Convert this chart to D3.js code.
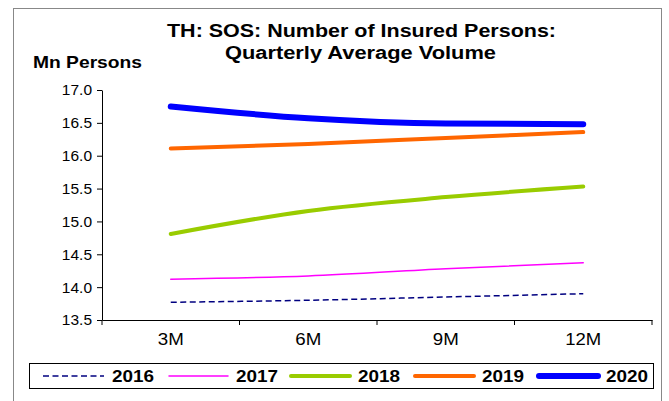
<!DOCTYPE html>
<html>
<head>
<meta charset="utf-8">
<script src="https://cdn.jsdelivr.net/npm/d3@7"></script>
<style>
  body { margin: 0; background: #fff; }
  svg { font-family: "Liberation Sans", Arial, sans-serif; }
</style>
</head>
<body>
<div id="chart"></div>
<script>
// categorie e valori
const periods = ['3M', '6M', '9M', '12M'];
const yTicks = [13.5, 14.0, 14.5, 15.0, 15.5, 16.0, 16.5, 17.0];
const v2016 = [13.77, 13.80, 13.85, 13.90];
const v2017 = [14.12, 14.17, 14.28, 14.37];
const v2018 = [14.81, 15.16, 15.37, 15.53];
const v2019 = [16.11, 16.18, 16.27, 16.36];
const v2020 = [16.75, 16.57, 16.49, 16.48];

const series = [
  { name: '2016', values: v2016, color: '#000080', width: 1.5, dash: '6,3.5' },
  { name: '2017', values: v2017, color: '#ff00ff', width: 1.5, dash: null },
  { name: '2018', values: v2018, color: '#99cc00', width: 4, dash: null },
  { name: '2019', values: v2019, color: '#ff6600', width: 4, dash: null },
  { name: '2020', values: v2020, color: '#0000ff', width: 6, dash: null }
];

const W = 669, H = 401;
const plot = { left: 102, right: 652, top: 90, bottom: 320 };

const svg = d3.select('#chart').append('svg')
  .attr('width', W).attr('height', H);

// cornice esterna
svg.append('rect')
  .attr('x', 13.5).attr('y', 8.5)
  .attr('width', 648).attr('height', 400)
  .attr('fill', '#fff').attr('stroke', '#888').attr('stroke-width', 1);

// testo un po' allargato come nell'originale
function wideText(sel, len) {
  sel.attr('textLength', len).attr('lengthAdjust', 'spacingAndGlyphs');
}

// titolo
svg.append('text').attr('x', 167).attr('y', 37)
  .attr('font-weight', 'bold').attr('font-size', 18)
  .text('TH: SOS: Number of Insured Persons:')
  .call(wideText, 389);
svg.append('text').attr('x', 225).attr('y', 59)
  .attr('font-weight', 'bold').attr('font-size', 18)
  .text('Quarterly Average Volume')
  .call(wideText, 271);
svg.append('text').attr('x', 33).attr('y', 68)
  .attr('font-weight', 'bold').attr('font-size', 17)
  .text('Mn Persons')
  .call(wideText, 109);

// scale
const x = d3.scaleBand().domain(periods).range([plot.left, plot.right]);
const y = d3.scaleLinear().domain([13.5, 17.0]).range([plot.bottom, plot.top]);

// asse y
const yAxis = svg.append('g')
  .attr('transform', `translate(${plot.left},0)`)
  .call(d3.axisLeft(y).tickValues(yTicks).tickFormat(d3.format('.1f')).tickSize(5).tickSizeOuter(0));
yAxis.selectAll('text').attr('font-size', 15.5).attr('fill', '#000').attr('dx', '-2');

// asse x, tacche sui confini delle categorie
const xAxis = svg.append('g')
  .attr('transform', `translate(0,${plot.bottom})`)
  .call(d3.axisBottom(x).tickSize(0).tickSizeOuter(0));
xAxis.selectAll('text')
  .attr('font-size', 16).attr('fill', '#000')
  .attr('y', 25).attr('dy', 0)
  .each(function (d) {
    d3.select(this).attr('textLength', d.length === 3 ? 36 : 26).attr('lengthAdjust', 'spacingAndGlyphs');
  });
xAxis.selectAll('.tick line').remove();
const bounds = periods.map(p => x(p)).concat([x.range()[1]]);
xAxis.selectAll('.bound').data(bounds).join('line')
  .attr('class', 'bound')
  .attr('x1', d => d).attr('x2', d => d)
  .attr('y1', 0).attr('y2', 5)
  .attr('stroke', '#000');
svg.selectAll('.domain').attr('stroke', '#000');

// linee
const line = d3.line()
  .x((d, i) => x(periods[i]) + x.bandwidth() / 2)
  .y(d => y(d))
  .curve(d3.curveMonotoneX);

svg.append('g').selectAll('path')
  .data(series)
  .join('path')
  .attr('d', d => line(d.values))
  .attr('fill', 'none')
  .attr('stroke', d => d.color)
  .attr('stroke-width', d => d.width)
  .attr('stroke-linecap', d => d.dash ? 'butt' : 'round')
  .attr('stroke-dasharray', d => d.dash);

// legenda
svg.append('rect')
  .attr('x', 29.5).attr('y', 363.5).attr('width', 624).attr('height', 25)
  .attr('fill', '#fff').attr('stroke', '#000');
const legendX = [43, 167, 289, 413, 537];
const leg = svg.append('g').selectAll('g')
  .data(series)
  .join('g')
  .attr('transform', (d, i) => `translate(${legendX[i]},376)`);
leg.append('line')
  .attr('x1', d => d.dash ? 0 : 2).attr('x2', d => d.dash ? 61 : 61)
  .attr('y1', 0).attr('y2', 0)
  .attr('stroke', d => d.color)
  .attr('stroke-width', d => d.width)
  .attr('stroke-linecap', d => d.dash ? 'butt' : 'round')
  .attr('stroke-dasharray', d => d.dash);
leg.append('text')
  .attr('x', 69).attr('y', 6)
  .attr('font-weight', 'bold').attr('font-size', 17)
  .text(d => d.name)
  .call(wideText, 42);
</script>
</body>
</html>
